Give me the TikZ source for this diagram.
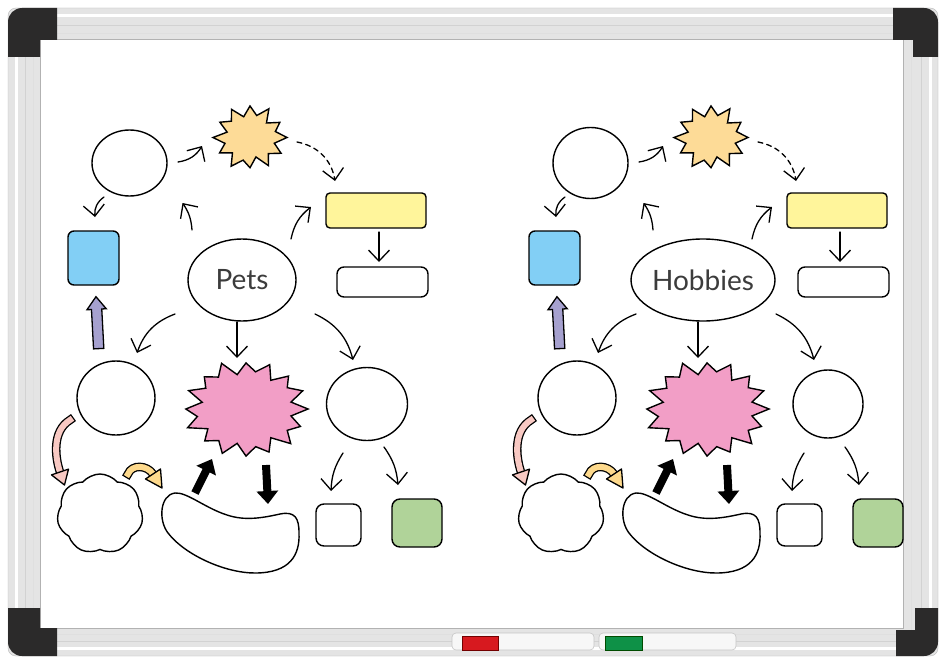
\documentclass[tikz,border=0pt]{standalone}
\usepackage{fontspec}
\setmainfont{Lato}
\usetikzlibrary{arrows.meta,shapes.geometric,shapes.symbols,shapes.arrows}
\definecolor{cOrange}{HTML}{FDDB97}
\definecolor{cYellow}{HTML}{FFF59B}
\definecolor{cBlue}{HTML}{82CFF5}
\definecolor{cPink}{HTML}{F29EC6}
\definecolor{cGreen}{HTML}{B0D399}
\definecolor{cPurple}{HTML}{A6A1CF}
\definecolor{cPinkA}{HTML}{F8C9C3}
\definecolor{cYelA}{HTML}{FDD98C}
\definecolor{cFrame}{HTML}{E4E4E4}
\definecolor{cCorner}{HTML}{2B2A2A}
\definecolor{cRed}{HTML}{D7191F}
\definecolor{cGreenM}{HTML}{0E9147}
\definecolor{cText}{HTML}{3C3C3C}

% #1 x shift, #2 name prefix, #3 label, #4 label ellipse width,
% #5 top ellipse height, #6 right ellipse width, #7 right ellipse height
\newcommand\boardmap[7]{%
\begin{scope}[shift={(#1,0)}]
  % top row
  \node[shp,ellipse,inner sep=0pt,minimum width=75pt,minimum height=#5] (#2e1) at (129.5,163) {};
  \coordinate (#2sO) at (250,137.5);
  \draw[shp,fill=cOrange,shift={(250,137.5)},xscale=37,yscale=32.5] (0:1)
    \foreach \ang/\rad in {15/0.68,30/0.97,45/0.7,60/1.0,75/0.62,90/0.93,105/0.72,120/1.02,135/0.67,150/0.95,165/0.7,180/1.0,195/0.64,210/0.94,225/0.71,240/1.0,255/0.66,270/0.97,285/0.7,300/1.02,315/0.63,330/0.93,345/0.71} {-- (\ang:\rad)} -- cycle;
  \node[shp,fill=cYellow,rounded corners=4pt,minimum width=100pt,minimum height=35pt] (#2ylw) at (376,210.5) {};
  \node[shp,rounded corners=7pt,minimum width=91pt,minimum height=30pt] (#2wr) at (382.5,282) {};
  \node[shp,fill=cBlue,rounded corners=6pt,minimum width=51pt,minimum height=54pt] (#2blue) at (93.5,258) {};
  \node[shp,ellipse,inner sep=0pt,minimum width=#4,minimum height=82pt,text=cText,font=\fontsize{28}{32}\selectfont] (#2c) at (242,280) {#3};
  % middle row
  \node[shp,ellipse,inner sep=0pt,minimum width=78pt,minimum height=74pt] (#2e2) at (116,398) {};
  \coordinate (#2sP) at (246,409);
  \draw[shp,fill=cPink,shift={(246,409)},xscale=62,yscale=48] (0:1)
    \foreach \ang/\rad in {11.25/0.74,22.5/0.95,33.75/0.8,45/1.02,56.25/0.72,67.5/0.97,78.75/0.8,90/0.98,101.25/0.73,112.5/1.0,123.75/0.79,135/0.94,146.25/0.74,157.5/1.02,168.75/0.8,180/0.97,191.25/0.72,202.5/1.0,213.75/0.78,225/0.95,236.25/0.8,247.5/1.03,258.75/0.73,270/0.96,281.25/0.79,292.5/1.0,303.75/0.72,315/0.97,326.25/0.8,337.5/0.99,348.75/0.74} {-- (\ang:\rad)} -- cycle;
  \node[shp,ellipse,inner sep=0pt,minimum width=#6,minimum height=#7] (#2e3) at (367,404) {};
  % bottom row
  \node[shp,cloud,cloud puffs=7,cloud puff arc=100,cloud ignores aspect,minimum width=86pt,minimum height=80pt,inner sep=0pt] (#2cl) at (100,514) {};
  \coordinate (#2blob) at (230,533);
  \draw[shp] (175,493) .. controls (187,492) and (205,508) .. (227,515)
     .. controls (245,521) and (262,518) .. (280,514)
     .. controls (295,511) and (299,518) .. (299,533)
     .. controls (300,555) and (290,573) .. (255,573)
     .. controls (225,573) and (185,555) .. (168,533)
     .. controls (158,520) and (160,495) .. (175,493) -- cycle;
  \node[shp,rounded corners=8pt,minimum width=45pt,minimum height=42pt] (#2sq1) at (338.5,525) {};
  \node[shp,fill=cGreen,rounded corners=8pt,minimum width=50pt,minimum height=48pt] (#2sq2) at (417,523) {};
  % thin connectors
  \draw[arr] ([shift={(-25.5,34)}]#2e1.center) to[bend right=30] ([shift={(1.5,-41)}]#2blue.center);
  \draw[arr] ([shift={(48.5,-1)}]#2e1.center) to[bend right=25] ([shift={(-48,8.5)}]#2sO);
  \draw[arr,dash pattern=on 5pt off 4pt] ([shift={(47,4.5)}]#2sO) to[bend left=35] ([shift={(-41,-29.5)}]#2ylw.center);
  \draw[arr] ([shift={(-50,-50)}]#2c.center) to[bend right=15] ([shift={(53,40)}]#2e1.center);
  \draw[arr] ([shift={(49,-41)}]#2c.center) to[bend left=20] ([shift={(-65,-3.5)}]#2ylw.center);
  \draw[arr] ([shift={(3,21.5)}]#2ylw.center) -- ([shift={(-3.5,-20)}]#2wr.center);
  \draw[arr] ([shift={(-67,34)}]#2c.center) to[bend right=25] ([shift={(21,-45)}]#2e2.center);
  \draw[arr] ([shift={(-5,42)}]#2c.center) -- ([shift={(-9,-51)}]#2sP);
  \draw[arr] ([shift={(73,34)}]#2c.center) to[bend left=25] ([shift={(-14,-44)}]#2e3.center);
  \draw[arr] ([shift={(-24,49)}]#2e3.center) to[bend right=15] ([shift={(-7.5,-34)}]#2sq1.center);
  \draw[arr] ([shift={(17,43)}]#2e3.center) to[bend left=15] ([shift={(-19,-38)}]#2sq2.center);
  % thick connectors
  \node[single arrow,draw=black,line width=1.3pt,fill=cPurple,inner sep=4.5pt,single arrow head extend=4.5pt,single arrow tip angle=75,minimum height=52pt,minimum width=18pt,rotate=93] (#2pa) at (97.5,326) {};
  \draw[thk] ([shift={(-35,-40)}]#2blob) -- ([shift={(-34,50)}]#2sP);
  \draw[thk] ([shift={(20,56)}]#2sP) -- ([shift={(38,-29)}]#2blob);
  % curved pink arrow e2 -> cloud
  \coordinate (#2pe) at ([shift={(-40,-42)}]#2cl.center);
  \draw[curvy,double=cPinkA] ([shift={(-46,22)}]#2e2.center) .. controls +(-18,11) and +(-5,-15) .. (#2pe);
  \draw[headp,fill=cPinkA] ([shift={(-8.5,2.9)}]#2pe) -- ([shift={(8.5,-2.9)}]#2pe) -- ([shift={(4.5,13)}]#2pe) -- cycle;
  % curved yellow arrow cloud -> blob
  \coordinate (#2ye) at ([shift={(-77,-59)}]#2blob);
  \draw[curvy,double=cYelA] ([shift={(28,-40)}]#2cl.center) .. controls +(4,-10) and +(-6,-9) .. (#2ye);
  \draw[headp,fill=cYelA] ([shift={(-7.5,5)}]#2ye) -- ([shift={(7.5,-5)}]#2ye) -- ([shift={(9,14)}]#2ye) -- cycle;
\end{scope}}

\begin{document}
\begin{tikzpicture}[x=1pt,y=-1pt,
  shp/.style={draw=black,line width=1.4pt},
  arr/.style={draw=black,line width=1.3pt,line cap=round,-{Straight Barb[length=11pt,width=21pt]}},
  thk/.style={draw=black,fill=black,line width=8pt,-{Triangle[length=13pt,width=21pt]}},
  curvy/.style={double distance=6pt,line width=1.3pt,line cap=rect},
  headp/.style={draw=black,line width=1.3pt,line join=round}]
\useasboundingbox (0,0) rectangle (941,658);
\fill[white] (0,0) rectangle (941,658);
% frame
\draw[draw=gray!55,fill=cFrame,rounded corners=8pt] (8,8) rectangle (938,656);
\draw[white,line width=3pt] (16,16) rectangle (930,648);
\draw[gray!35,line width=0.8pt] (25,25) rectangle (921,641);
\draw[gray!25,line width=0.8pt] (33,33) rectangle (911,634);
\draw[gray!60,line width=1pt,fill=white] (40,40) rectangle (903,628);
% tray and markers
\draw[fill=gray!6,draw=gray!45,line width=0.6pt,rounded corners=4pt] (452,633) rectangle (594,650);
\draw[fill=gray!6,draw=gray!45,line width=0.6pt,rounded corners=4pt] (599,633) rectangle (736,650);
\draw[fill=cRed,draw=red!45!black,line width=0.5pt] (462,636) rectangle (498,650);
\draw[fill=cGreenM,draw=green!30!black,line width=0.5pt] (605,636) rectangle (642,650);
% corners
\fill[cCorner] (8,57) -- (8,22) arc(180:270:14) -- (57,8) -- (57,40) -- (40,40) -- (40,57) -- cycle;
\fill[cCorner] (893,8) -- (924,8) arc(270:360:14) -- (938,57) -- (913,57) -- (913,40) -- (893,40) -- cycle;
\fill[cCorner] (8,608) -- (40,608) -- (40,628) -- (57,628) -- (57,656) -- (22,656) arc(90:180:14) -- cycle;
\fill[cCorner] (915,608) -- (938,608) -- (938,642) arc(0:90:14) -- (896,656) -- (896,630) -- (915,630) -- cycle;
% the two maps
\boardmap{0}{L}{Pets}{108pt}{66pt}{81pt}{73pt}
\boardmap{461}{R}{Hobbies}{131pt}{71pt}{70pt}{68pt}
\end{tikzpicture}
\end{document}
